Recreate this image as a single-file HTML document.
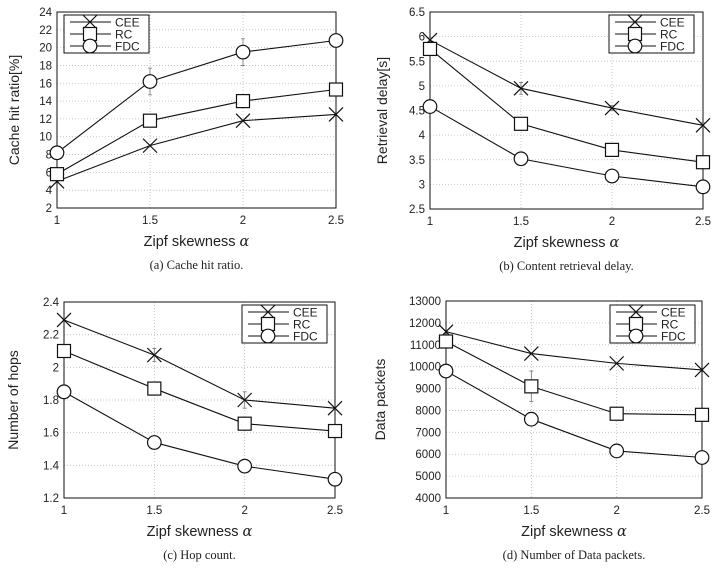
<!DOCTYPE html>
<html><head><meta charset="utf-8"><style>
body{margin:0;background:#fff;width:720px;height:566px;overflow:hidden}
svg text{font-family:"Liberation Sans",sans-serif;fill:#222}
</style></head><body>
<svg id="s" width="720" height="566" xmlns="http://www.w3.org/2000/svg"></svg>
<script>
const xCats=[1,1.5,2,2.5];
const seriesNames=["CEE","RC","FDC"];
const aCEE=[5,9,11.8,12.5], aRC=[5.8,11.8,14,15.3], aFDC=[8.2,16.2,19.5,20.8];
const aErr=[0.4,1.5,1.5,0.4];
const bCEE=[5.93,4.95,4.55,4.2], bRC=[5.75,4.23,3.7,3.45], bFDC=[4.58,3.52,3.17,2.95];
const bErr=[0.05,0.12,0.05,0.05];
const cCEE=[2.29,2.075,1.8,1.75], cRC=[2.1,1.87,1.655,1.61], cFDC=[1.85,1.54,1.395,1.315];
const cErr=[0.01,0.04,0.05,0.01];
const dCEE=[11600,10600,10150,9850], dRC=[11150,9100,7850,7800], dFDC=[9800,7600,6150,5850];
const dErr=[300,700,100,100];
const aTicks=[2,4,6,8,10,12,14,16,18,20,22,24];
const bTicks=[2.5,3,3.5,4,4.5,5,5.5,6,6.5];
const cTicks=[1.2,1.4,1.6,1.8,2,2.2,2.4];
const dTicks=[4000,5000,6000,7000,8000,9000,10000,11000,12000,13000];
const xTickLabels=["1","1.5","2","2.5"];
const NS="http://www.w3.org/2000/svg";
const S=document.getElementById('s');
function mk(tag,at,par,txt){const e=document.createElementNS(NS,tag);for(const k in at)e.setAttribute(k,at[k]);if(txt!==undefined)e.textContent=txt;(par||S).appendChild(e);return e;}
function marker(g,kind,x,y){
 if(kind===0){mk('path',{d:`M${x-7},${y-7}L${x+7},${y+7}M${x-7},${y+7}L${x+7},${y-7}`,stroke:'#111','stroke-width':1.2,fill:'none'},g);}
 else if(kind===1){mk('rect',{x:x-6.5,y:y-6.5,width:13,height:13,stroke:'#111','stroke-width':1.2,fill:'#fff'},g);}
 else mk('circle',{cx:x,cy:y,r:6.8,stroke:'#111','stroke-width':1.2,fill:'#fff'},g);
}
function chart(id,L,R,T,B,ticks,series,err,ytitle,caption,legend,errSeries,tOff){
 const g=mk('g',{});
 
 
 const ymin=ticks[0],ymax=ticks[ticks.length-1];
 const xs=v=>L+(v-1)/1.5*(R-L);
 const ys=v=>B-(v-ymin)/(ymax-ymin)*(B-T);
 ticks.forEach(t=>{const y=ys(t);
  mk('line',{x1:L,x2:R,y1:y,y2:y,stroke:'#bbb','stroke-dasharray':'1,2','stroke-width':0.8},g);
  mk('text',{x:L-5,y:y+4,'text-anchor':'end','font-size':11.5},g,String(t));});
 xCats.forEach((c,i)=>{const x=xs(c);
  mk('line',{x1:x,x2:x,y1:T,y2:B,stroke:'#bbb','stroke-dasharray':'1,2','stroke-width':0.8},g);
  mk('text',{x:x,y:B+16,'text-anchor':'middle','font-size':11.5},g,xTickLabels[i]);});
 mk('rect',{x:L,y:T,width:R-L,height:B-T,fill:'none',stroke:'#111','stroke-width':1},g);
 series.forEach((s,k)=>{
  const sg=mk('g',{},g);
  
  
  mk('polyline',{points:s.map((v,i)=>xs(xCats[i])+','+ys(v)).join(' '),fill:'none',stroke:'#111','stroke-width':1.1},sg);
  if(k===errSeries){s.forEach((v,i)=>{const x=xs(xCats[i]);mk('path',{d:`M${x},${ys(v-err[i])}V${ys(v+err[i])}M${x-2},${ys(v-err[i])}h4M${x-2},${ys(v+err[i])}h4`,stroke:'#777','stroke-width':0.8,fill:'none'},sg);});}
  s.forEach((v,i)=>marker(sg,k,xs(xCats[i]),ys(v)));
 });
 const [lx,ly]=legend;
 const lg=mk('g',{},g);
 
 
 mk('rect',{x:lx,y:ly,width:85,height:38,fill:'#fff',stroke:'#111','stroke-width':1},lg);
 seriesNames.forEach((n,k)=>{const y=ly+7+k*12;
  mk('line',{x1:lx+6,x2:lx+47,y1:y,y2:y,stroke:'#111','stroke-width':1.1},lg);
  marker(lg,k,lx+26,y);
  mk('text',{x:lx+51,y:y+4.5,'font-size':12},lg,n);});
 const my=(T+B)/2;
 mk('text',{x:0,y:0,transform:`translate(${L-tOff},${my}) rotate(-90)`,'text-anchor':'middle','font-size':14},g,ytitle);
 const t=mk('text',{x:(L+R)/2,y:B+38,'text-anchor':'middle','font-size':14.5},g,'Zipf skewness ');
 mk('tspan',{'font-family':'DejaVu Serif','font-style':'italic'},t,'α');
 mk('text',{x:(L+R)/2,y:B+61,'text-anchor':'middle','font-size':12.5,style:'font-family:"Liberation Serif",serif'},g,caption);
}
chart('chart-cache-hit',57,336,12,208,aTicks,[aCEE,aRC,aFDC],aErr,'Cache hit ratio[%]','(a)  Cache hit ratio.',[64,15],2,38);
chart('chart-retrieval-delay',430,703,12,209,bTicks,[bCEE,bRC,bFDC],bErr,'Retrieval delay[s]','(b)  Content retrieval delay.',[609,15],0,43);
chart('chart-hop-count',64,335,302,498,cTicks,[cCEE,cRC,cFDC],cErr,'Number of hops','(c)  Hop count.',[242,305],0,46);
chart('chart-data-packets',446,702,301,498,dTicks,[dCEE,dRC,dFDC],dErr,'Data packets','(d)  Number of Data packets.',[610,305],1,61);
</script>
</body></html>
